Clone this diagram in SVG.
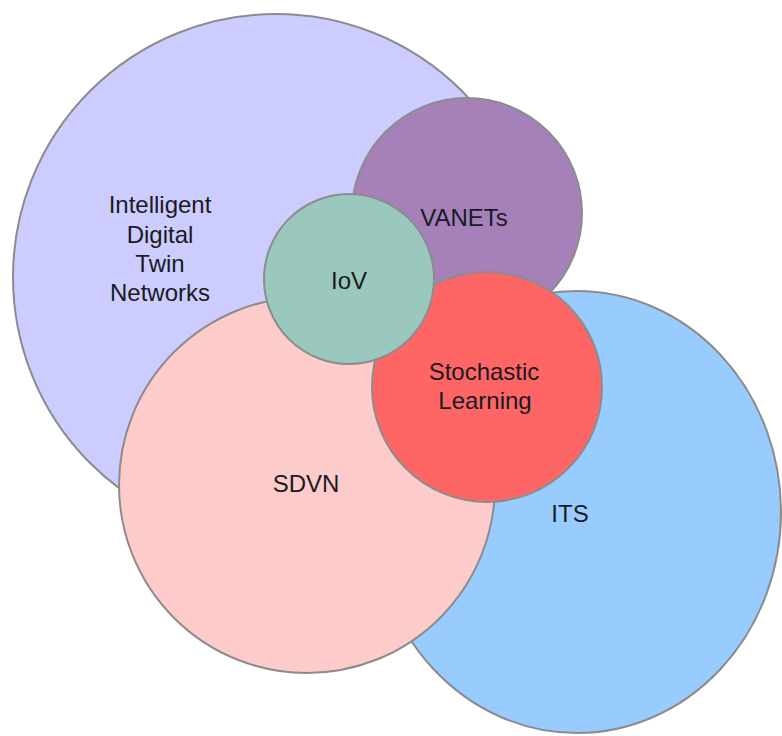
<svg xmlns="http://www.w3.org/2000/svg" width="782" height="736" viewBox="0 0 782 736">
  <style>
    .c { stroke: #8c8c8c; stroke-width: 2; }
    .t { font-family: "Liberation Sans", Arial, sans-serif; font-size: 24px; fill: #1a1a22; text-anchor: middle; }
  </style>
  <rect width="782" height="736" fill="#ffffff"/>
  <g id="idtn">
    <circle class="c" cx="276" cy="277" r="263" fill="#ccccfe"/>
    <text class="t" x="160" y="213">Intelligent</text>
    <text class="t" x="160" y="243">Digital</text>
    <text class="t" x="160" y="272">Twin</text>
    <text class="t" x="160" y="301">Networks</text>
  </g>
  <g id="its">
    <ellipse class="c" cx="577" cy="512" rx="204" ry="221" fill="#99ccfe"/>
    <text class="t" x="570" y="522">ITS</text>
  </g>
  <g id="sdvn">
    <circle class="c" cx="307" cy="485" r="188" fill="#fecbcb"/>
    <text class="t" x="306" y="492">SDVN</text>
  </g>
  <g id="vanets">
    <circle class="c" cx="467" cy="213" r="115" fill="#a680b9"/>
    <text class="t" x="464" y="226">VANETs</text>
  </g>
  <g id="stochastic">
    <circle class="c" cx="487" cy="387" r="115" fill="#fe6666"/>
    <text class="t" x="484" y="380">Stochastic</text>
    <text class="t" x="485" y="409">Learning</text>
  </g>
  <g id="iov">
    <circle class="c" cx="349" cy="279" r="85" fill="#9ac7be"/>
    <text class="t" x="349" y="289">IoV</text>
  </g>
  <g id="connectors"></g>
</svg>
